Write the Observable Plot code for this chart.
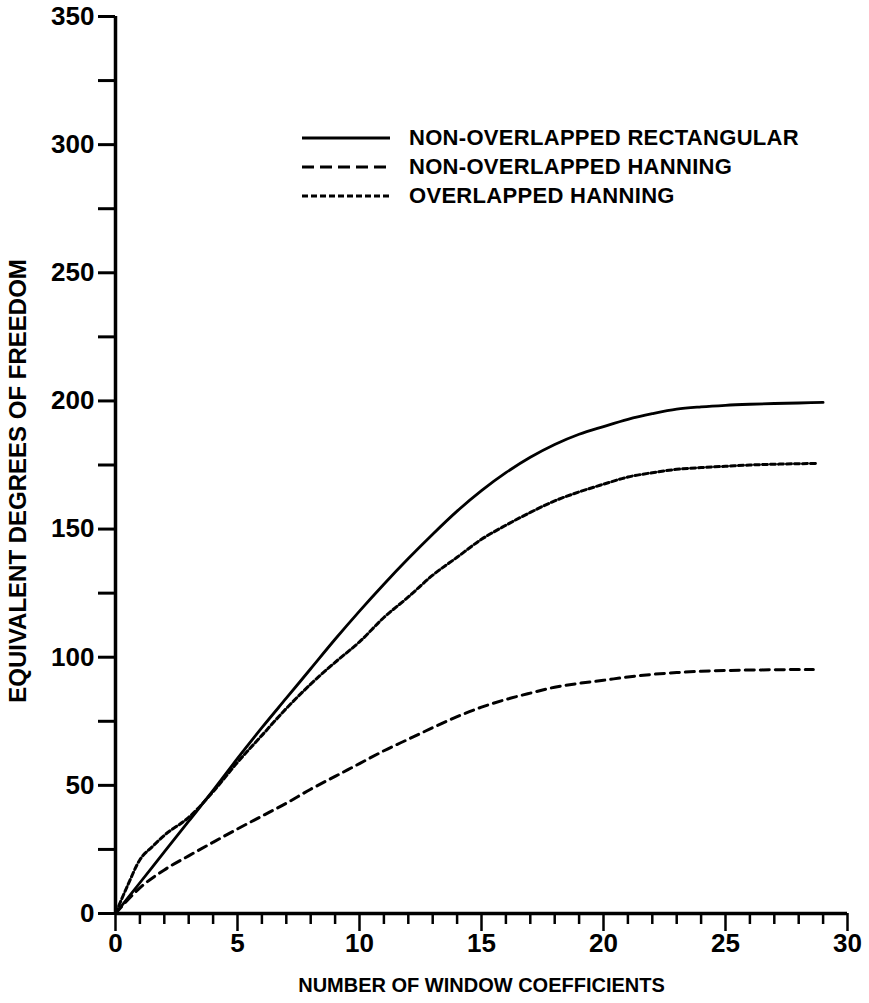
<!DOCTYPE html>
<html>
<head>
<meta charset="utf-8">
<script src="https://cdn.jsdelivr.net/npm/d3@7"></script>
<script src="https://cdn.jsdelivr.net/npm/@observablehq/plot@0.6"></script>
<style>
  html, body { margin: 0; padding: 0; background: #fff; }
  #wrap { position: relative; width: 869px; height: 1003px; font-family: "Liberation Sans", Arial, sans-serif; color: #000; }
  #legend { position: absolute; left: 302px; top: 123px; font-weight: bold; font-size: 22px; letter-spacing: 0.3px; }
  #legend .row { display: flex; align-items: center; height: 29px; }
  #legend svg { width: 90px; height: 10px; margin-right: 17px; }
</style>
</head>
<body>
<div id="wrap"></div>
<script>
// ---- data ----
const seriesNames = ["NON-OVERLAPPED RECTANGULAR", "NON-OVERLAPPED HANNING", "OVERLAPPED HANNING"];

const rectX = [0, 1, 2, 3, 4, 5, 6, 7, 8, 9, 10, 11, 12, 13, 14, 15, 16, 17, 18, 19, 20, 21, 22, 23, 24, 25, 26, 27, 28, 29];
const rectY = [0, 12, 24, 36, 48, 60.5, 72.5, 84, 95.5, 107, 118, 128.5, 138.5, 148, 157, 165, 172, 178, 183, 187, 190, 192.8, 195, 196.8, 197.7, 198.3, 198.7, 199, 199.2, 199.4];

const nonOvHanX = [0, 1, 2, 3, 4, 5, 6, 7, 8, 9, 10, 11, 12, 13, 14, 15, 16, 17, 18, 19, 20, 21, 22, 23, 24, 25, 26, 27, 28, 28.6];
const nonOvHanY = [0, 10, 17, 22.5, 27.8, 33, 38, 43, 48.5, 53.5, 58.5, 63.5, 68, 72.5, 76.8, 80.5, 83.5, 86, 88.3, 89.8, 91, 92.3, 93.3, 94, 94.5, 94.8, 95, 95.1, 95.2, 95.2];

const ovHanX = [0, 0.5, 1, 1.5, 2, 3, 4, 5, 6, 7, 8, 9, 10, 11, 12, 13, 14, 15, 16, 17, 18, 19, 20, 21, 22, 23, 24, 25, 26, 27, 28, 28.7];
const ovHanY = [0, 11, 21, 26, 30.5, 37.5, 47.5, 59, 69.5, 80, 89.5, 98, 106, 115.5, 123.5, 132, 139, 146, 151.5, 156.5, 161, 164.5, 167.5, 170.3, 172, 173.3, 174, 174.5, 175, 175.3, 175.5, 175.6];

const yMajorTicks = [0, 50, 100, 150, 200, 250, 300, 350];
const yMinorTicks = [25, 75, 125, 175, 225, 275, 325];
const xMajorTicks = [0, 5, 10, 15, 20, 25, 30];
const xMinorTicks = d3.range(0, 31).filter(d => d % 5 !== 0);

const xTitle = "NUMBER OF WINDOW COEFFICIENTS";
const yTitle = "EQUIVALENT DEGREES OF FREEDOM";

// ---- tables built from the arrays ----
const mk = (xs, ys, s) => xs.map((x, i) => ({x, y: ys[i], s}));
const rect = mk(rectX, rectY, seriesNames[0]);
const nonOv = mk(nonOvHanX, nonOvHanY, seriesNames[1]);
const ov = mk(ovHanX, ovHanY, seriesNames[2]);

const styles = [
  {dash: null, width: 2.8, legendDash: null},
  {dash: "9,6", width: 3, legendDash: "12,6"},
  {dash: "5,3", width: 3, legendDash: "6,3"}
];

const chart = Plot.plot({
  width: 869,
  height: 1003,
  marginLeft: 115,
  marginRight: 22,
  marginTop: 16,
  marginBottom: 90,
  style: {fontFamily: "Liberation Sans, Arial, sans-serif", color: "#000", background: "#fff"},
  x: {domain: [0, 30]},
  y: {domain: [0, 350]},
  marks: [
    Plot.axisY({ticks: yMajorTicks, tickSize: 17, tickPadding: 4, fontSize: 26, fontWeight: "bold", label: null, strokeWidth: 3}),
    Plot.axisY({ticks: yMinorTicks, tickSize: 17, tickFormat: () => "", label: null, strokeWidth: 3}),
    Plot.axisX({ticks: xMajorTicks, tickSize: 18, tickPadding: 2, fontSize: 26, fontWeight: "bold", label: null, strokeWidth: 2.5}),
    Plot.axisX({ticks: xMinorTicks, tickSize: 11, tickFormat: () => "", label: null, strokeWidth: 2.5}),
    Plot.ruleX([0], {strokeWidth: 3.5}),
    Plot.ruleY([0], {strokeWidth: 3.5}),
    Plot.line(rect, {x: "x", y: "y", stroke: "#000", strokeWidth: styles[0].width, curve: "monotone-x"}),
    Plot.line(nonOv, {x: "x", y: "y", stroke: "#000", strokeWidth: styles[1].width, strokeDasharray: styles[1].dash, curve: "monotone-x"}),
    Plot.line(ov, {x: "x", y: "y", stroke: "#000", strokeWidth: styles[2].width, strokeDasharray: styles[2].dash, curve: "monotone-x"}),
    Plot.text([xTitle], {frameAnchor: "bottom", textAnchor: "middle", dy: 78, fontSize: 20, fontWeight: "bold", fill: "#000"}),
    Plot.text([yTitle], {frameAnchor: "left", textAnchor: "middle", rotate: -90, dx: -97, dy: 16, fontSize: 24, fontWeight: "bold", fill: "#000"})
  ]
});

const wrap = document.getElementById("wrap");
wrap.appendChild(chart);

// legend overlay
const legend = document.createElement("div");
legend.id = "legend";
seriesNames.forEach((name, i) => {
  const row = document.createElement("div");
  row.className = "row";
  const st = styles[i];
  row.innerHTML = `<svg viewBox="0 0 90 10"><line x1="0" y1="5" x2="88" y2="5" stroke="#000" stroke-width="${st.width}" ${st.legendDash ? `stroke-dasharray="${st.legendDash}"` : ""}/></svg><span>${name}</span>`;
  legend.appendChild(row);
});
wrap.appendChild(legend);
</script>
</body>
</html>
